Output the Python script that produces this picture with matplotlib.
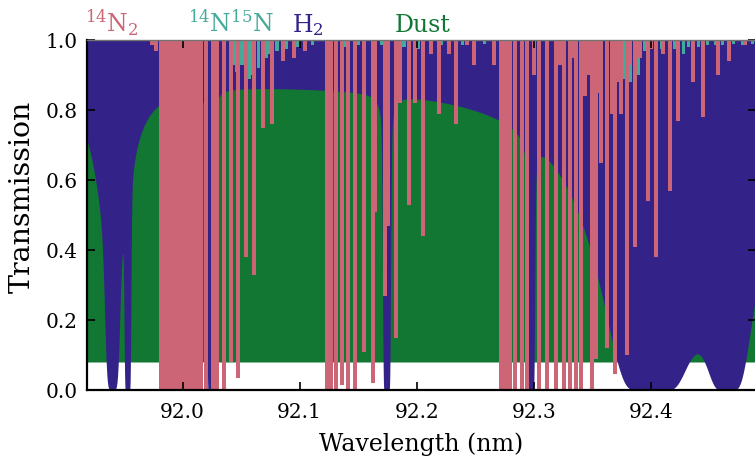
import numpy as np
import matplotlib
matplotlib.use('Agg')
import matplotlib.pyplot as plt

plt.rcParams['font.family'] = 'DejaVu Serif'
plt.rcParams['mathtext.fontset'] = 'dejavuserif'

c_n2 = '#CC6677'
c_n15 = '#44AA99'
c_h2 = '#332288'
c_dust = '#117733'

# 14N2 lines: centre (nm) and transmission at the bottom of each line
n2_wave = [91.9740, 91.9774, 91.9816, 91.9842, 91.9868, 91.9893, 91.9919, 91.9944,
           91.9970, 91.9996, 92.0021, 92.0047, 92.0073, 92.0098, 92.0124, 92.0149,
           92.0158, 92.0201, 92.0260, 92.0295, 92.0354, 92.0414, 92.0474, 92.0542,
           92.0610, 92.0687, 92.0764, 92.0858, 92.0952, 92.1046,
           92.1234, 92.1268, 92.1311, 92.1362, 92.1413, 92.1473, 92.1550, 92.1627,
           92.1644, 92.1729, 92.1755, 92.1823, 92.1857, 92.1934, 92.1986, 92.2054,
           92.2122, 92.2190, 92.2276, 92.2336, 92.2430, 92.2490, 92.2660,
           92.2720, 92.2737, 92.2771, 92.2797, 92.2840, 92.2899, 92.2942, 92.3002,
           92.3045, 92.3113, 92.3190, 92.3224, 92.3258, 92.3309, 92.3335, 92.3361,
           92.3403, 92.3437, 92.3463, 92.3497, 92.3531, 92.3548, 92.3574, 92.3625,
           92.3668, 92.3694, 92.3711, 92.3745, 92.3796, 92.3822, 92.3864, 92.3907,
           92.3975, 92.4001, 92.4044, 92.4103, 92.4163, 92.4232, 92.4360, 92.4445,
           92.4573, 92.4667, 92.4804]
n2_min = [0.985, 0.97, 0.0, 0.0, 0.0, 0.0, 0.0, 0.0,
          0.0, 0.0, 0.0, 0.0, 0.0, 0.0, 0.0, 0.0,
          0.0, 0.0, 0.0, 0.0, 0.0, 0.08, 0.035, 0.38,
          0.33, 0.75, 0.76, 0.94, 0.95, 0.97,
          0.0, 0.0, 0.0, 0.015, 0.0, 0.0, 0.11, 0.02,
          0.51, 0.27, 0.47, 0.15, 0.82, 0.53, 0.82, 0.44,
          0.96, 0.79, 0.96, 0.76, 0.985, 0.93, 0.93,
          0.0, 0.0, 0.0, 0.0, 0.0, 0.0, 0.0, 0.9,
          0.0, 0.0, 0.0, 0.93, 0.0, 0.0, 0.95, 0.0,
          0.0, 0.84, 0.9, 0.0, 0.09, 0.85, 0.65, 0.12,
          0.79, 0.045, 0.88, 0.79, 0.10, 0.93, 0.41, 0.95,
          0.54, 0.975, 0.38, 0.96, 0.57, 0.77, 0.88, 0.78,
          0.90, 0.94, 0.985]

# 14N15N lines
n15_wave = [92.0431, 92.0465, 92.0508, 92.0568, 92.0602, 92.0645, 92.0713, 92.0747,
            92.0807, 92.0892, 92.0986, 92.1106, 92.1396, 92.1499, 92.1695, 92.1891,
            92.2011, 92.2208, 92.2387, 92.2575, 92.3762, 92.3822, 92.3890, 92.3941,
            92.4087, 92.4198, 92.4275, 92.4317, 92.4402, 92.4479, 92.4548, 92.4607,
            92.4701, 92.4778, 92.4863]
n15_min = [0.93, 0.91, 0.93, 0.89, 0.90, 0.92, 0.95, 0.96,
           0.97, 0.975, 0.98, 0.985, 0.98, 0.985, 0.985, 0.98,
           0.975, 0.985, 0.985, 0.99, 0.89, 0.88, 0.90, 0.97,
           0.975, 0.975, 0.96, 0.98, 0.98, 0.985, 0.985, 0.985,
           0.99, 0.985, 0.99]

# H2 components: centre (nm), peak optical depth, width (nm), lorentzian fraction
h2_wave = [91.9400, 91.9400, 91.9530, 92.0235, 92.1742, 92.2973, 92.4001, 92.4650]
h2_tau = [1.05, 7.2, 27.0, 30.0, 30.0, 30.0, 44.0, 13.0]
h2_width = [0.01068, 0.00293, 0.00110, 0.00100, 0.00128, 0.00128, 0.00683, 0.00683]
h2_lor = [1.0, 0.0, 0.05, 0.05, 0.05, 0.05, 1.0, 1.0]

dust_T = 0.888
floor = 0.08

xlim = (91.91846, 92.48965)
wave = np.linspace(xlim[0], xlim[1], 8000)
tau = np.zeros_like(wave)
for c, t0, w, eta in zip(h2_wave, h2_tau, h2_width, h2_lor):
    u = (wave - c) / w
    tau += t0 * (eta / (1 + u**2) + (1 - eta) * np.exp(-0.5 * u**2))
trans = dust_T * np.exp(-tau)

fig = plt.figure(figsize=(7.55, 4.57), dpi=100)
ax = fig.add_axes([87 / 755, 67 / 457, 669 / 755, 350 / 457])

# dust band under everything, H2 absorption drawn from the curve up to 1
ax.fill_between(wave, floor, dust_T, color=c_dust, lw=0)
ax.fill_between(wave, trans, 1.0, color=c_h2, lw=0)
ax.bar(n15_wave, 1 - np.array(n15_min), bottom=n15_min, width=0.0026,
       color=c_n15, lw=0)
ax.bar(n2_wave, 1 - np.array(n2_min), bottom=n2_min, width=0.0034,
       color=c_n2, lw=0)

ax.set_xlim(*xlim)
ax.set_ylim(0, 1)
ax.set_xticks([92.0, 92.1, 92.2, 92.3, 92.4])
ax.set_yticks([0.0, 0.2, 0.4, 0.6, 0.8, 1.0])
ax.set_yticklabels(['0.0', '0.2', '0.4', '0.6', '0.8', '1.0'])
ax.tick_params(direction='in', length=6, width=1.2, labelsize=14.5,
               top=True, right=True)
ax.tick_params(axis='x', pad=9)
ax.tick_params(axis='y', pad=7)
for s in ['left', 'bottom']:
    ax.spines[s].set_linewidth(1.6)
ax.spines['top'].set_linewidth(1.0)
ax.spines['top'].set_color('0.45')

ax.set_xlabel('Wavelength (nm)', fontsize=17, labelpad=8)
ax.set_ylabel('Transmission', fontsize=20.5)
ax.yaxis.set_label_coords(-0.077, 0.551)

labels = [r'$^{14}$N$_2$', r'$^{14}$N$^{15}$N', r'H$_2$', 'Dust']
label_x = [-0.003, 0.151, 0.306, 0.460]
for txt, lx, col in zip(labels, label_x, [c_n2, c_n15, c_h2, c_dust]):
    ax.text(lx, 1.023, txt, color=col, fontsize=17, ha='left', va='baseline',
            transform=ax.transAxes)

fig.savefig('out.png', dpi=100)
